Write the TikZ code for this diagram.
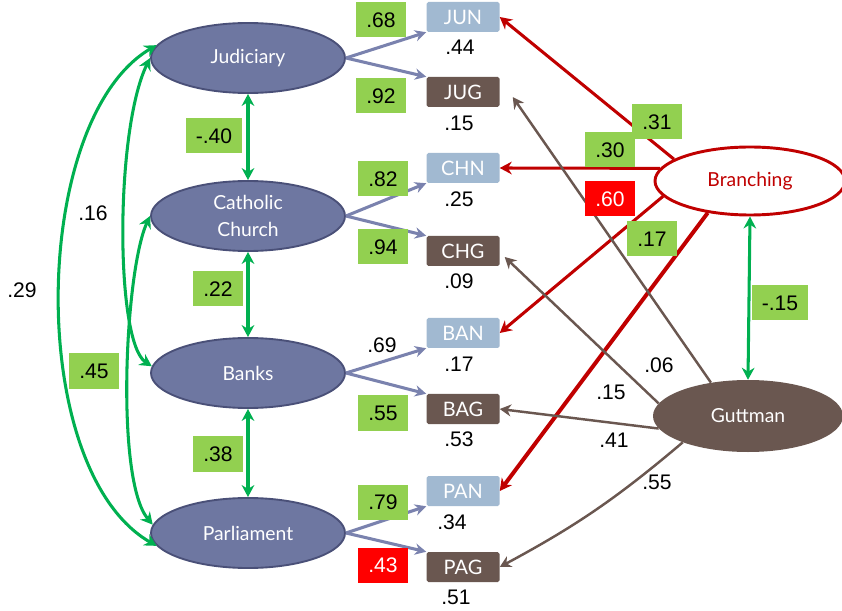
\documentclass[tikz,border=0pt]{standalone}
\usepackage{fontspec}
\setmainfont{Liberation Sans}
\newfontfamily\gillfont{Lato}
\usepackage{tikz}
\usetikzlibrary{arrows.meta,shapes.geometric}

\definecolor{latfill}{HTML}{6E77A1}
\definecolor{latline}{HTML}{4A5078}
\definecolor{nbox}{HTML}{A1B9D1}
\definecolor{gbrown}{HTML}{6A5750}
\definecolor{coefgreen}{HTML}{92D050}
\definecolor{corrgreen}{HTML}{00B050}
\definecolor{darkred}{HTML}{C00000}
\definecolor{loadblue}{HTML}{7A82AE}

\begin{document}
\begin{tikzpicture}[
  x=0.03cm, y=0.03cm,
  every node/.style={font=\fontsize{18}{20}\selectfont},
  latent/.style={ellipse, draw=latline, line width=1.6pt, fill=latfill, text=white,
    minimum width=5.82cm, minimum height=2.1cm, align=center,
    font=\gillfont\fontsize{16.5}{23}\selectfont},
  obs/.style={rectangle, rounded corners=1.5pt, text=white, minimum width=2.19cm,
    minimum height=0.9cm, inner sep=0pt, font=\gillfont\fontsize{17}{20}\selectfont},
  obsn/.style={obs, fill=nbox},
  obsg/.style={obs, fill=gbrown},
  coef/.style={fill=coefgreen, minimum width=1.47cm, minimum height=1.05cm,
    inner xsep=0.3cm, inner ysep=0pt},
  coefbad/.style={coef, fill=red, text=white},
  num/.style={inner sep=1pt},
  corr/.style={corrgreen, line width=2.6pt,
    {Stealth[length=0.36cm,width=0.38cm]}-{Stealth[length=0.36cm,width=0.38cm]}},
  load/.style={loadblue, line width=2.6pt, -{Stealth[length=0.34cm,width=0.34cm]}},
  branchpath/.style={darkred, line width=2.6pt, -{Stealth[length=0.36cm,width=0.38cm]}},
  guttpath/.style={gbrown, line width=2.1pt, -{Stealth[length=0.34cm,width=0.36cm]}},
]
\useasboundingbox (0,0) rectangle (842,610);

%% ── Latent factors ─────────────────────────────────────────────────────────
\node[latent] (jud)   at (248,552) {Judiciary};
\node[latent] (cath)  at (248,394) {Catholic\\Church};
\node[latent] (banks) at (248,237) {Banks};
\node[latent] (parl)  at (248,77)  {Parliament};

\node[ellipse, draw=darkred, line width=2.5pt, fill=white, text=darkred,
      minimum width=5.7cm, minimum height=2.04cm,
      font=\gillfont\fontsize{16.5}{20}\selectfont] (branch) at (750,429) {Branching};
\node[ellipse, fill=gbrown, text=white, minimum width=5.7cm, minimum height=2.16cm,
      font=\gillfont\fontsize{16.5}{20}\selectfont] (gutt) at (748,194) {Guttman};

%% ── Observed items ─────────────────────────────────────────────────────────
\node[obsn] (jun) at (463,593) {JUN};
\node[obsg] (jug) at (463,518) {JUG};
\node[obsn] (chn) at (463,442) {CHN};
\node[obsg] (chg) at (463,359) {CHG};
\node[obsn] (ban) at (463,277) {BAN};
\node[obsg] (bag) at (463,201) {BAG};
\node[obsn] (pan) at (463,119) {PAN};
\node[obsg] (pag) at (463,43)  {PAG};

%% residual variances
\node[num] (rjun) at (460,563) {.44};
\node[num] (rjug) at (459,487) {.15};
\node[num] (rchn) at (459,411) {.25};
\node[num] (rchg) at (459,329) {.09};
\node[num] (rban) at (459,246) {.17};
\node[num] (rbag) at (459,171) {.53};
\node[num] (rpan) at (452,88)  {.34};
\node[num] (rpag) at (456,13)  {.51};

%% ── Loadings ───────────────────────────────────────────────────────────────
\draw[load] (jud.east)   -- (jun.south west);
\draw[load] (jud.east)   -- (jug.north west);
\draw[load] (cath.east)  -- (chn.south west);
\draw[load] (cath.east)  -- (chg.north west);
\draw[load] (banks.east) -- (ban.south west);
\draw[load] (banks.east) -- (bag.north west);
\draw[load] (parl.east)  -- (pan.south west);
\draw[load] (parl.east)  -- (pag.north west);

%% ── Factor correlations ────────────────────────────────────────────────────
\draw[corr] (jud.south)   -- (cath.north);
\draw[corr] (cath.south)  -- (banks.north);
\draw[corr] (banks.south) -- (parl.north);
\draw[corr] (branch.south) -- (gutt.north);
\draw[corr] (jud.172) .. controls (30,490) and (25,140) .. (parl.188);
\draw[corr] (jud.west) .. controls (115,480) and (115,268) .. (banks.176);
\draw[corr] (cath.west) .. controls (125,340) and (115,130) .. (parl.175);

%% ── Method factors ─────────────────────────────────────────────────────────
\draw[branchpath] (branch.164) -- (jun.east);
\draw[branchpath] (branch.172) -- (chn.east);
\draw[branchpath] (branch.190) -- (ban.east);
\draw[branchpath, line width=3.4pt] (branch.217) -- (pan.east);

\draw[guttpath] (gutt.138) -- ([shift={(13,-5)}]jug.east);
\draw[guttpath] (gutt.172) -- ([shift={(5,-6)}]chg.east);
\draw[guttpath] (gutt.188) -- (bag.east);
\draw[guttpath] (gutt.202) to[bend left=6] (pag.east);

%% ── Coefficients ───────────────────────────────────────────────────────────
\node[num] (c29) at (22,320) {.29};
\node[num] (c16) at (93,397) {.16};
\node[coef] (c45) at (94,239) {.45};
\node[coef] (c40) at (214,474) {-.40};
\node[coef] (c22) at (218,321) {.22};
\node[coef] (c38) at (218,156) {.38};

\node[coef] (l68) at (381,590) {.68};
\node[coef] (l92) at (381,514) {.92};
\node[coef] (l82) at (383,431) {.82};
\node[coef] (l94) at (383,363) {.94};
\node[num]  (l69) at (382,265) {.69};
\node[coef] (l55) at (383,197) {.55};
\node[coef] (l79) at (383,108) {.79};
\node[coefbad] (l43) at (383,45) {.43};

\node[coef] (b31) at (657,488) {.31};
\node[coef] (b30) at (610,460) {.30};
\node[coefbad] (b60) at (610,411) {.60};
\node[coef] (b17) at (652,371) {.17};
\node[coef] (c15) at (780,307) {-.15};

\node[num] (g06) at (659,245) {.06};
\node[num] (g15) at (611,218) {.15};
\node[num] (g41) at (614,170) {.41};
\node[num] (g55) at (657,128) {.55};

\end{tikzpicture}
\end{document}
